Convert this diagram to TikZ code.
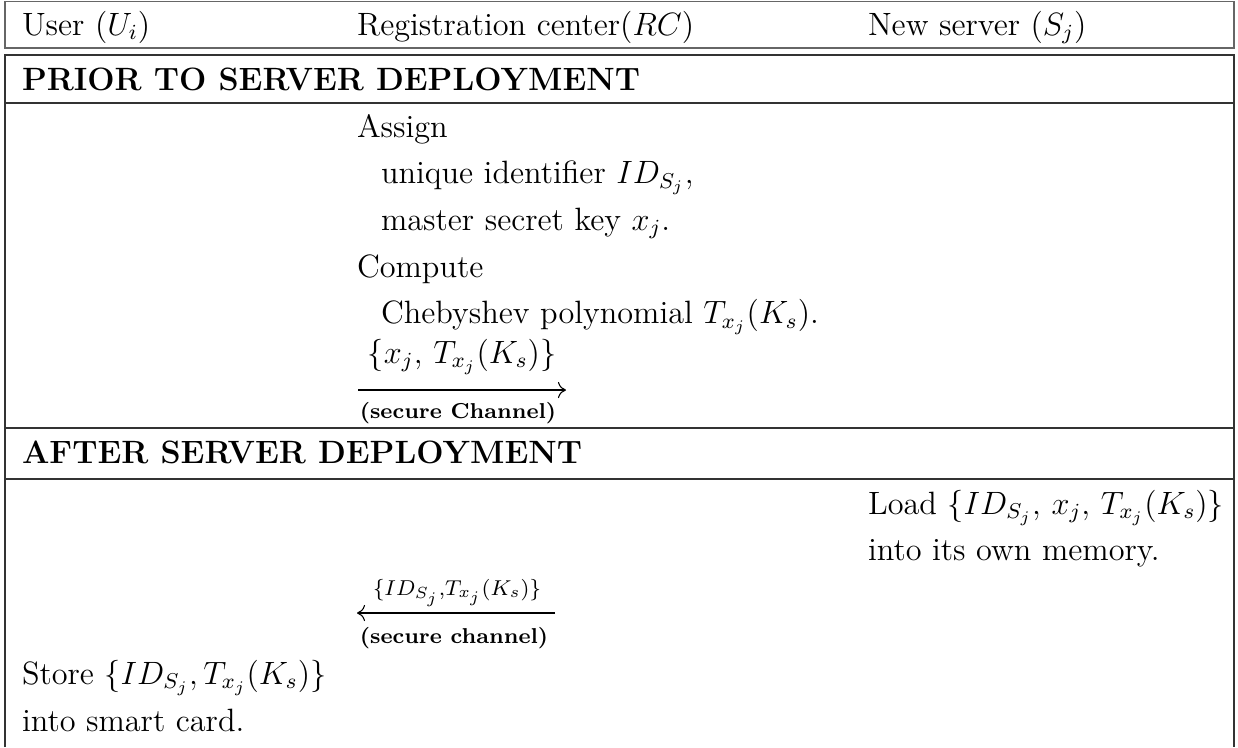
\documentclass[12pt,tikz,border=0pt]{standalone}
\usepackage{amsmath}
\usetikzlibrary{arrows.meta}
\begin{document}
\begin{tikzpicture}[x=0.3717pt,y=-0.3717pt,
  txt/.style={anchor=base west,inner sep=0pt,outer sep=0pt},
  rule/.style={line width=0.5pt,draw=black!80},
  msg/.style={line width=0.4pt,-{Computer Modern Rightarrow[length=3pt,width=6pt]}},
  lbl/.style={inner sep=0pt,anchor=base},
  chan/.style={inner sep=0pt,anchor=base,font=\scriptsize\bfseries}]
\useasboundingbox (0,0) rectangle (1238,747);
% header box
\draw[rule,draw=black!60,line width=0.6pt] (5,1.5) rectangle (1234,48);
% phase boxes
\draw[rule] (5,747) -- (5,55) -- (1234,55) -- (1234,747);
\draw[rule] (5,103) -- (1234,103);
\draw[rule] (5,428) -- (1234,428);
\draw[rule] (5,479) -- (1234,479);
% column titles
\node[txt] (hu) at (22,35) {User ($U_i$)};
\node[txt] (hr) at (357,35) {Registration center($RC$)};
\node[txt] (hs) at (868,35) {New server ($S_j$)};
% phase 1
\node[txt] (p1) at (22,90) {\bfseries PRIOR TO SERVER DEPLOYMENT};
\node[txt] (a1) at (357,137) {Assign};
\node[txt] (a2) at (381,183.5) {unique identifier $ID_{S_j}$,};
\node[txt] (a3) at (381,230) {master secret key $x_j$.};
\node[txt] (c1) at (357,277) {Compute};
\node[txt] (c2) at (381,323.5) {Chebyshev polynomial $T_{x_j}(K_s)$.};
\coordinate (m1a) at (358,390);
\coordinate (m1b) at (566,390);
\draw[msg] (m1a) -- (m1b);
\node[lbl] (m1t) at (462,363) {$\{x_j,\,T_{x_j}(K_s)\}$};
\node[chan] (m1c) at (458,418) {(secure Channel)};
% phase 2
\node[txt] (p2) at (22,463) {\bfseries AFTER SERVER DEPLOYMENT};
\node[txt] (l1) at (868,514) {Load $\{ID_{S_j},\,x_j,\,T_{x_j}(K_s)\}$};
\node[txt] (l2) at (868,560) {into its own memory.};
\coordinate (m2a) at (555,613);
\coordinate (m2b) at (357,613);
\draw[msg] (m2a) -- (m2b);
\node[lbl] (m2t) at (457,595) {$\scriptstyle\{ID_{S_j},T_{x_j}(K_s)\}$};
\node[chan] (m2c) at (454,643) {(secure channel)};
\node[txt] (s1) at (22,684) {Store $\{ID_{S_j},T_{x_j}(K_s)\}$};
\node[txt] (s2) at (22,731) {into smart card.};
\end{tikzpicture}
\end{document}
